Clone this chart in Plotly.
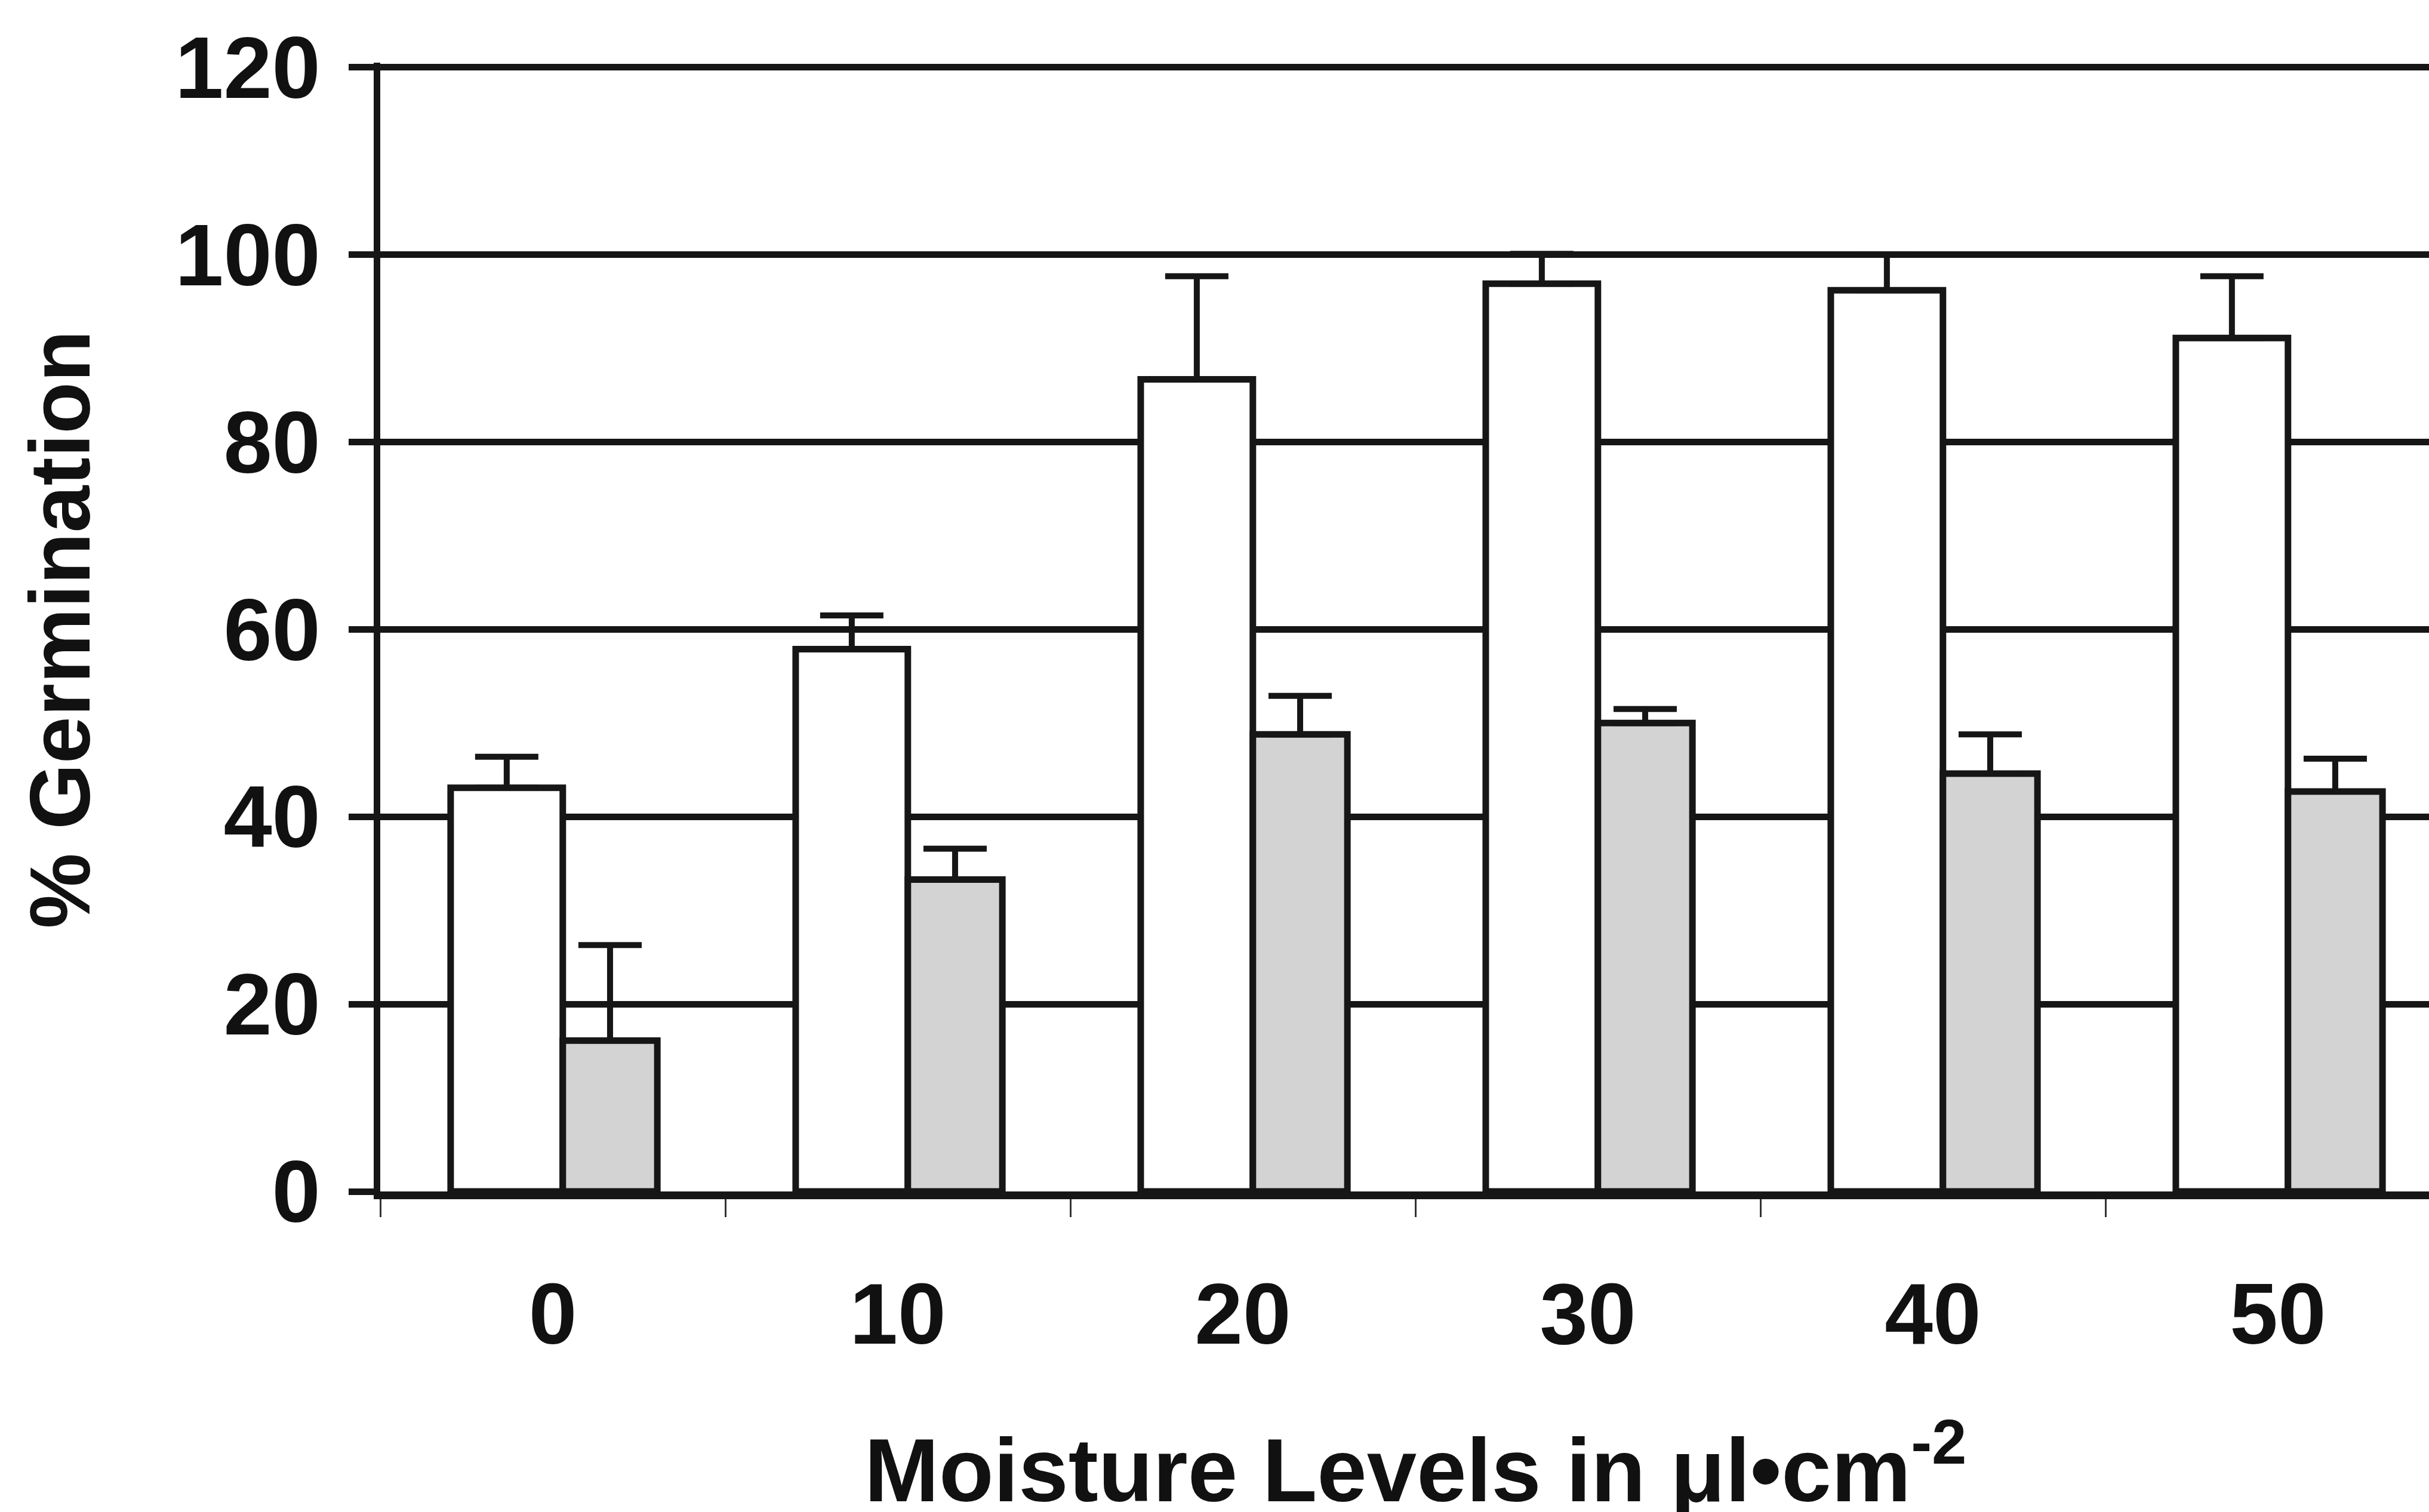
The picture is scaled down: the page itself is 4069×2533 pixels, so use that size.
import plotly.graph_objects as go

# ---- data ----
categories = ["0", "10", "20", "30", "40", "50"]
white_vals = [43.1, 57.9, 86.7, 96.9, 96.2, 91.1]
white_err = [3.3, 3.6, 11.0, 3.2, 3.8, 6.6]
gray_vals = [16.1, 33.3, 48.8, 50.0, 44.6, 42.7]
gray_err = [10.2, 3.3, 4.1, 1.5, 4.2, 3.5]
y_ticks = [0, 20, 40, 60, 80, 100, 120]

W, H = 4069, 2533
L, B, R = 637, 537, 0
Y_TOP_PX = 113          # pixel row of the 120 gridline
Y_MAX = 120.5           # small headroom so the 120 gridline is drawn
px_per_unit = (H - B - Y_TOP_PX) / 120.0
T = int(round(Y_TOP_PX - (Y_MAX - 120) * px_per_unit))
FONT = "Liberation Sans, Arial, Helvetica, sans-serif"
INK = "#161616"

fig = go.Figure()

fig.add_trace(go.Bar(
    x=categories, y=white_vals,
    offset=-0.296, width=0.325,
    marker=dict(color="#ffffff", line=dict(color=INK, width=11)),
    error_y=dict(type="data", array=white_err, arrayminus=[0] * len(white_err),
                 symmetric=False, color=INK, thickness=10, width=53),
    showlegend=False,
))
fig.add_trace(go.Bar(
    x=categories, y=gray_vals,
    offset=0.029, width=0.274,
    marker=dict(color="#d3d3d3", line=dict(color=INK, width=11)),
    error_y=dict(type="data", array=gray_err, arrayminus=[0] * len(gray_err),
                 symmetric=False, color=INK, thickness=10, width=53),
    showlegend=False,
))

span_units = (W - L) / 578.0
fig.update_layout(
    width=W, height=H,
    margin=dict(l=L, r=R, t=T, b=B, pad=0),
    paper_bgcolor="#ffffff", plot_bgcolor="#ffffff",
    barmode="overlay",
    font=dict(family=FONT, color="#111111"),
    xaxis=dict(
        type="category",
        range=[-0.5, -0.5 + span_units],
        showgrid=False, zeroline=False,
        showline=True, linecolor=INK, linewidth=13,
        ticks="outside", tickson="boundaries", ticklen=30, tickwidth=3, tickcolor="#333333",
        tickfont=dict(size=145, family=FONT, weight="bold", color="#111111"),
        ticklabelstandoff=68,
    ),
    yaxis=dict(
        range=[0, Y_MAX],
        tickvals=y_ticks,
        showgrid=True, gridcolor=INK, gridwidth=11,
        zeroline=False,
        showline=True, linecolor=INK, linewidth=11,
        ticks="outside", ticklen=42, tickwidth=11, tickcolor=INK,
        tickfont=dict(size=146, family=FONT, weight="bold", color="#111111"),
        ticklabelstandoff=18,
    ),
    annotations=[
        dict(text="% Germination", xref="paper", yref="paper",
             x=(100 - L) / (W - L - R), y=0.5 * 120 / Y_MAX, xanchor="center", yanchor="middle",
             textangle=-90, showarrow=False,
             font=dict(size=142, family=FONT, weight="bold", color="#111111")),
        dict(text="Moisture Levels in μl•cm<sup>-2</sup>", xref="paper", yref="paper",
             x=(2371 - L) / (W - L - R), y=-(2452 - (H - B)) / (H - T - B),
             xanchor="center", yanchor="middle", showarrow=False,
             font=dict(size=150, family=FONT, weight="bold", color="#111111")),
    ],
)

fig.write_html("out.html")
